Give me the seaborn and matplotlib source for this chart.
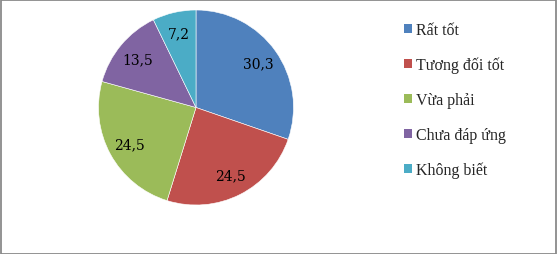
import matplotlib
matplotlib.use("Agg")
import matplotlib.pyplot as plt
import seaborn as sns
import numpy as np
from matplotlib.patches import Rectangle, Patch

categories = ["Rất tốt", "Tương đối tốt", "Vừa phải", "Chưa đáp ứng", "Không biết"]
values = [30.3, 24.5, 24.5, 13.5, 7.2]
value_labels = ["30,3", "24,5", "24,5", "13,5", "7,2"]
colors = ["#4F81BD", "#C0504D", "#9BBB59", "#8064A2", "#4BACC6"]

sns.set_theme(style="white")
palette = sns.color_palette(colors)

W, H = 557, 255
fig = plt.figure(figsize=(W / 100, H / 100), dpi=100)
fig.patch.set_facecolor("white")

cx, cy, r = 196, 108.5, 97.5
ax = fig.add_axes([(cx - r) / W, (H - cy - r) / H, 2 * r / W, 2 * r / H])
wedges, _ = ax.pie(values, colors=palette, startangle=90, counterclock=False,
                   wedgeprops=dict(edgecolor="white", linewidth=0.4))
for w, lab in zip(wedges, value_labels):
    ang = np.deg2rad((w.theta1 + w.theta2) / 2)
    ax.text(0.78 * np.cos(ang), 0.78 * np.sin(ang), lab, ha="center", va="center",
            fontsize=10, family="DejaVu Serif", color="black")
ax.set_xlim(-1, 1)
ax.set_ylim(-1, 1)
ax.set_aspect("auto")
ax.axis("off")

handles = [Patch(facecolor=c, edgecolor="none") for c in palette]
fig.legend(handles, categories, loc="center left",
           bbox_to_anchor=(404 / W, 1 - 101 / H), frameon=False,
           prop=dict(family="Liberation Serif", size=11.5),
           handlelength=0.47, handleheight=0.47, handletextpad=0.3,
           labelspacing=1.18, borderpad=0, borderaxespad=0)

fig.add_artist(Rectangle((0.5 / W, 0.5 / H), 1 - 1.5 / W, 1 - 1.5 / H,
                         transform=fig.transFigure, fill=False,
                         edgecolor="#8a8a8a", linewidth=1.3))

fig.savefig("out.png", dpi=100)
